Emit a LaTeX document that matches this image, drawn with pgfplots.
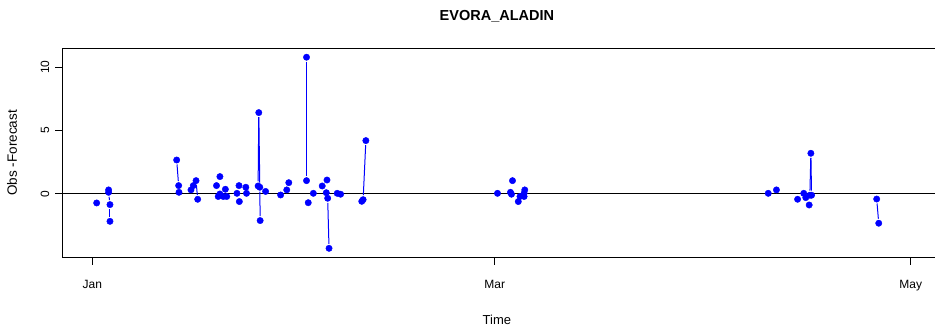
\documentclass[border=0pt]{standalone}
\usepackage{pgfplots}
\pgfplotsset{compat=1.18}
\usepackage{fontspec}
\setmainfont{Liberation Sans}
\definecolor{rblue}{RGB}{0,0,255}
\pgfplotsset{seg/.style={rblue, line width=1pt, no marks, shorten >=4.5pt, shorten <=4.5pt, forget plot}}
\begin{document}
\begin{tikzpicture}[x=1pt,y=1pt]
\useasboundingbox (0,0) rectangle (935,331);
\begin{axis}[
  at={(62.3pt,73.3pt)}, anchor=south west,
  scale only axis, width=872.7pt, height=208.7pt,
  xmin=-4.41, xmax=123.55, ymin=-5.03, ymax=11.44,
  axis x line*=box, axis y line*=left,
  axis line style={-, line width=1pt},
  xtick={0,59,120}, xticklabels={Jan,Mar,May},
  ytick={0,5,10},
  xtick pos=bottom, ytick pos=left,
  tick align=outside, major tick length=7pt,
  every tick/.style={black, line width=1pt},
  /pgf/number format/assume math mode=true,
  ticklabel style={font=\fontsize{12}{14}\selectfont},
  yticklabel style={xshift=-2.5pt, rotate=90, anchor=south},
  xticklabel style={yshift=-12pt},
  title={EVORA\_ALADIN},
  title style={font=\fontsize{14.5}{16}\selectfont\bfseries, at={(axis description cs:0.498,1.13)}, anchor=center, yshift=0pt},
  xlabel={Time},
  xlabel style={font=\fontsize{13}{15}\selectfont, at={(axis description cs:0.498,-0.2985)}, anchor=center},
  ylabel={Obs -Forecast},
  ylabel style={font=\fontsize{13.5}{15}\selectfont, at={(axis description cs:-0.0576,0.502)}, anchor=center, rotate=0},
  clip=false,
]
\addplot[black, line width=1pt, no marks, forget plot] coordinates {(-4.41,0) (123.55,0)};
% visible line segments (R type="b")
\addplot[seg] coordinates {(2.38,0.13) (2.58,-0.84)};
\addplot[seg] coordinates {(2.58,-0.84) (2.58,-2.16)};
\addplot[seg] coordinates {(12.36,2.68) (12.65,0.66)};
\addplot[seg] coordinates {(14.46,0.32) (14.8,0.66)};
\addplot[seg] coordinates {(14.8,0.66) (15.2,1.05)};
\addplot[seg] coordinates {(15.2,1.05) (15.44,-0.42)};
\addplot[seg] coordinates {(24.3,0.63) (24.4,6.42)};
\addplot[seg] coordinates {(24.4,6.42) (24.55,0.53)};
\addplot[seg] coordinates {(24.55,0.53) (24.6,-2.1)};
\addplot[seg] coordinates {(31.4,10.79) (31.4,1.05)};
\addplot[seg] coordinates {(34.3,0.1) (34.5,-0.34)};
\addplot[seg] coordinates {(34.5,-0.34) (34.7,-4.29)};
\addplot[seg] coordinates {(39.7,-0.45) (40.1,4.21)};
\addplot[seg] coordinates {(105.2,-0.1) (105.35,3.21)};
\addplot[seg] coordinates {(105.35,3.21) (105.45,-0.1)};
\addplot[seg] coordinates {(115.0,-0.4) (115.3,-2.31)};
% points
\addplot[only marks, mark=*, mark size=3.2pt, rblue, mark options={draw=rblue, fill=rblue}] coordinates {
(0.63,-0.71)
(2.38,0.32) (2.38,0.13) (2.58,-0.84) (2.58,-2.16)
(12.36,2.68) (12.65,0.66) (12.7,0.13)
(14.46,0.32) (14.8,0.66) (15.2,1.05) (15.44,-0.42)
(18.2,0.66) (18.45,-0.2) (18.7,1.37) (18.7,0) (19.2,-0.2) (19.5,0.37) (19.7,-0.2)
(21.2,0.05) (21.5,0.66) (21.55,-0.6) (22.5,0.53) (22.6,0.05)
(24.3,0.63) (24.4,6.42) (24.55,0.53) (24.6,-2.1) (25.4,0.2)
(27.6,-0.08) (28.5,0.32) (28.8,0.89)
(31.4,10.79) (31.4,1.05) (31.65,-0.69) (32.4,0.05) (33.7,0.63) (34.4,1.1) (34.3,0.1) (34.5,-0.34) (34.7,-4.29) (35.9,0.05) (36.4,-0.02)
(39.5,-0.58) (39.7,-0.45) (40.1,4.21)
(59.4,0.05) (61.3,0.13) (61.6,1.05) (61.45,-0.02) (62.45,-0.6) (62.7,-0.2) (63.3,0.05) (63.4,0.32) (63.3,-0.2)
(99.1,0.05) (100.3,0.32) (103.4,-0.42) (104.3,0.05) (104.6,-0.29) (105.1,-0.87) (105.2,-0.1) (105.35,3.21) (105.45,-0.1)
(115.0,-0.4) (115.3,-2.31)
};
\end{axis}
\end{tikzpicture}
\end{document}
